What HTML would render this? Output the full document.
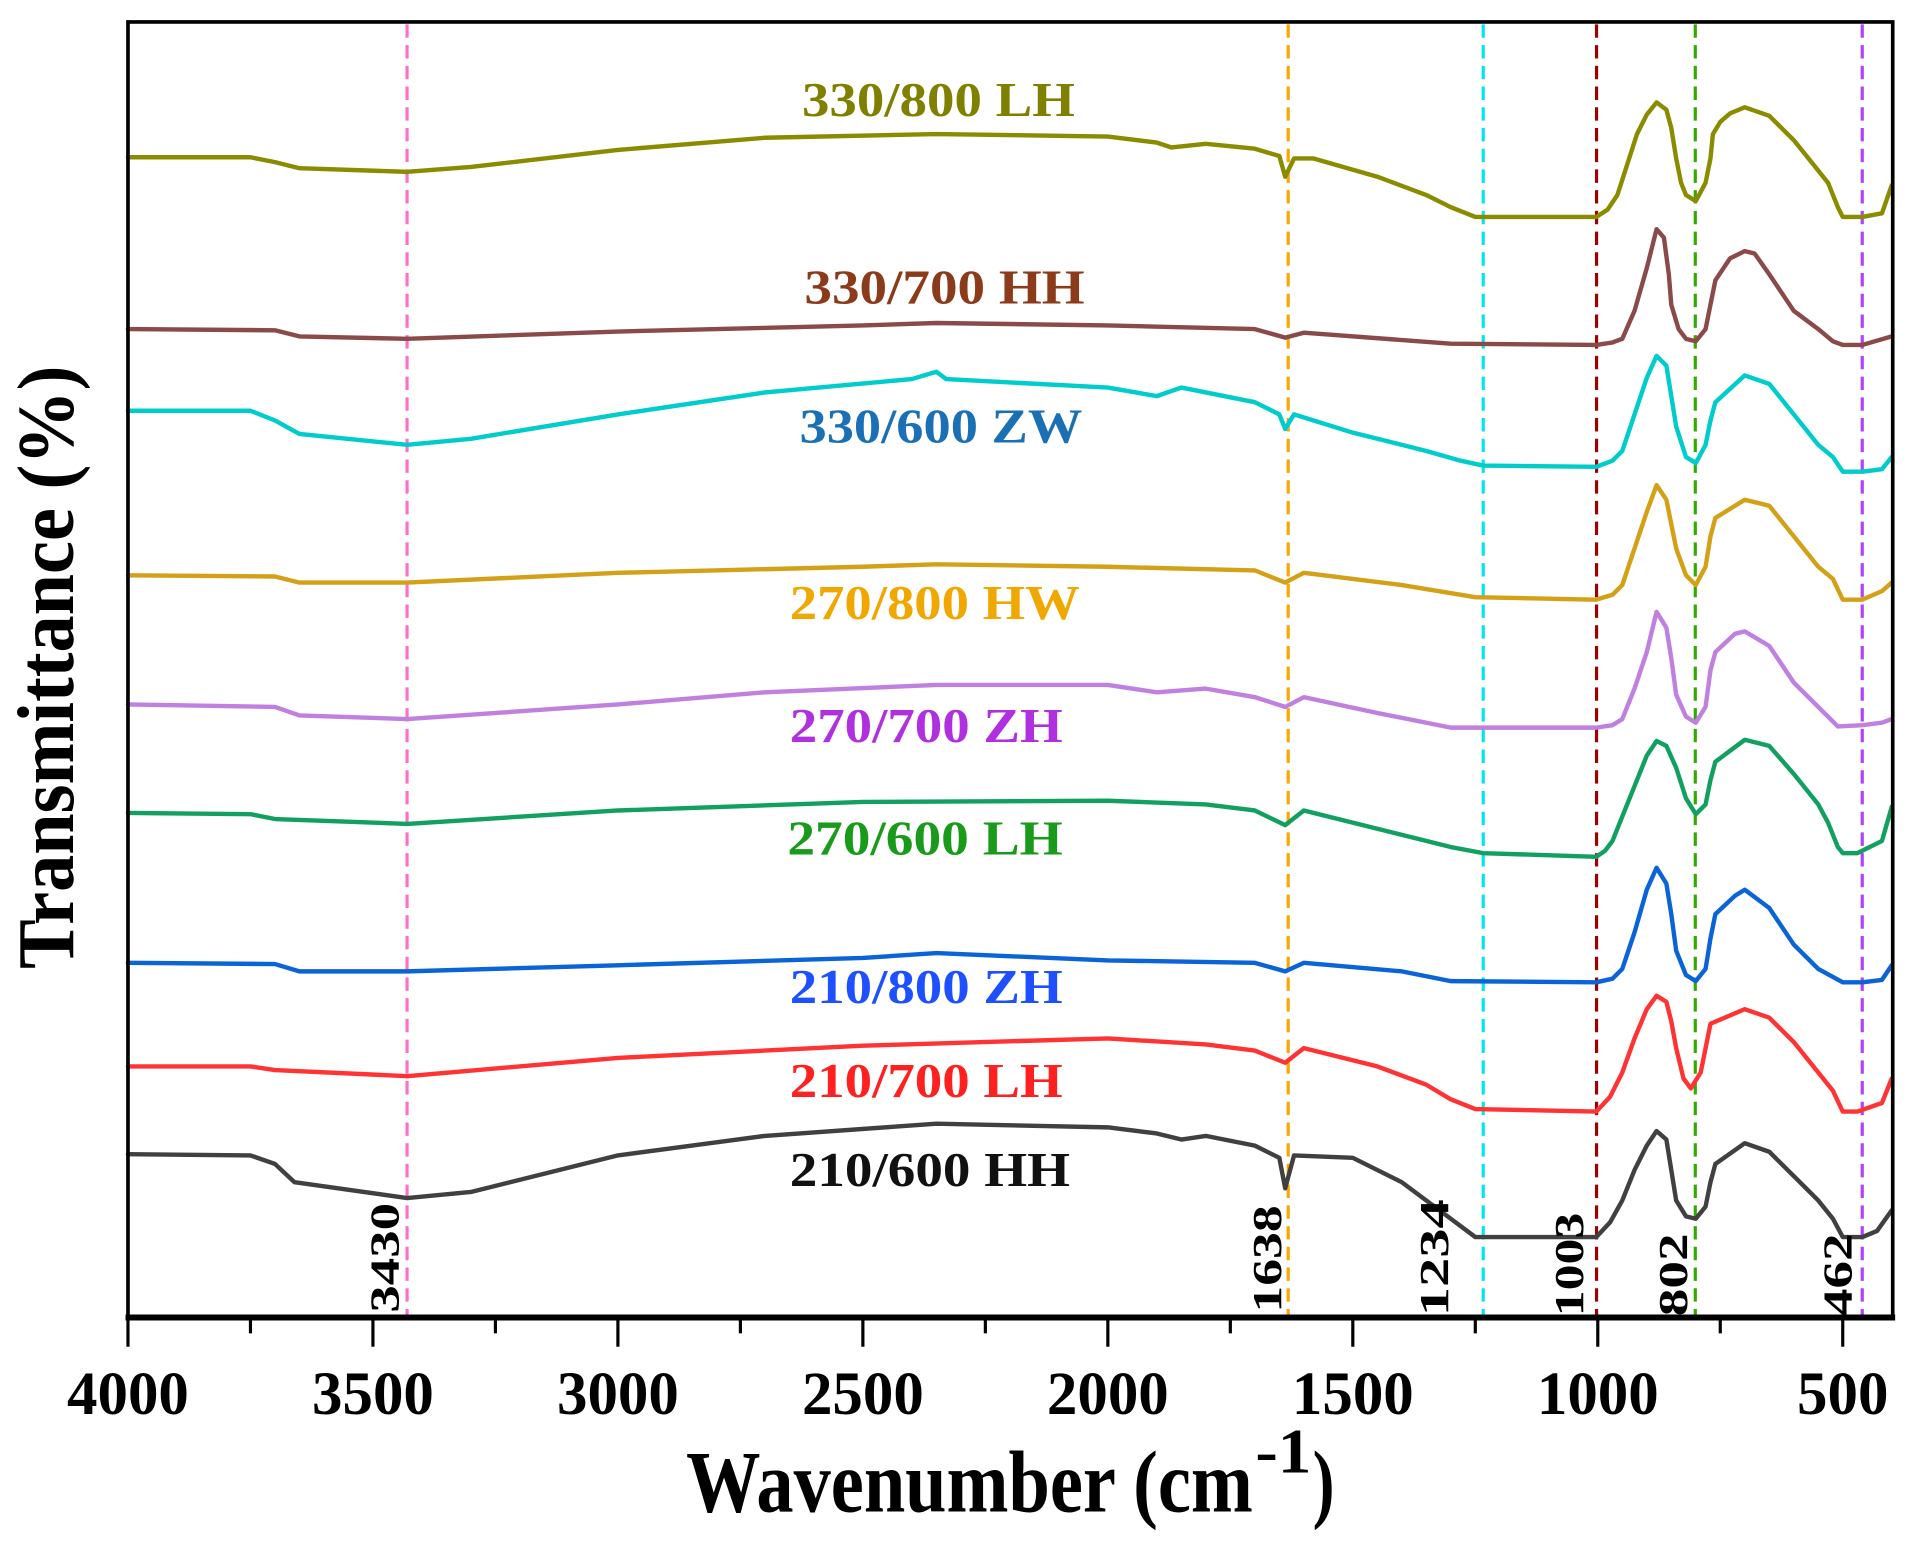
<!DOCTYPE html>
<html><head><meta charset="utf-8"><style>html,body{margin:0;padding:0;background:#fff}svg{display:block}</style></head>
<body>
<svg width="1911" height="1547" viewBox="0 0 1568 1269.3" xmlns="http://www.w3.org/2000/svg" font-family="Liberation Serif, serif" font-weight="bold">
<rect x="0" y="0" width="1568" height="1270" fill="#fff"/>
<g stroke-width="2.6" stroke-dasharray="11,6" fill="none">
<line x1="334" y1="20" x2="334" y2="1080" stroke="#ff6ec7"/>
<line x1="1057" y1="20" x2="1057" y2="1080" stroke="#ffa500"/>
<line x1="1217" y1="20" x2="1217" y2="1080" stroke="#00e5ee"/>
<line x1="1310" y1="20" x2="1310" y2="1080" stroke="#a00000"/>
<line x1="1391" y1="20" x2="1391" y2="1080" stroke="#33aa00"/>
<line x1="1528" y1="20" x2="1528" y2="1080" stroke="#b040ff"/>
</g>
<g transform="matrix(-0.402 0 0 1 1713 0)" fill="none" stroke-width="4.4" stroke-linejoin="round" stroke-linecap="round">
<polyline vector-effect="non-scaling-stroke" stroke="#8b8b00" points="4000,129 3750,129 3700,133 3650,138 3430,141 3300,137 3000,123 2700,113 2350,110 2000,112 1900,117 1870,121 1800,118 1700,122 1650,128 1638,145 1620,130 1580,130 1450,145 1350,160 1300,170 1250,178 1003,178 980,172 960,160 940,135 920,110 900,94 880,84 860,90 850,105 840,130 830,150 820,160 800,165 780,150 770,130 765,110 750,100 730,93 700,88 650,95 600,115 560,135 530,150 510,170 500,178 460,178 420,175 400,152"/>
<polyline vector-effect="non-scaling-stroke" stroke="#8b4a4a" points="4000,270 3700,271 3650,276 3430,278 3000,272 2500,267 2350,265 2000,267 1700,270 1638,277 1600,273 1300,282 1003,283 970,281 950,278 925,255 900,220 880,188 865,195 855,225 850,250 835,270 820,278 800,280 780,270 770,250 760,230 730,212 700,206 680,208 650,225 600,255 550,270 520,280 500,283 460,283 400,276"/>
<polyline vector-effect="non-scaling-stroke" stroke="#00cccc" points="4000,337 3750,337 3700,345 3650,356 3430,365 3300,360 3000,340 2700,322 2400,311 2350,305 2330,311 2000,318 1900,325 1850,318 1700,330 1650,340 1638,352 1620,340 1500,355 1350,370 1280,378 1234,382 1003,383 970,378 950,370 925,340 900,310 880,292 860,300 850,325 840,350 820,375 800,380 780,365 770,345 760,330 700,308 650,315 600,340 550,365 520,375 500,387 460,387 420,385 400,375"/>
<polyline vector-effect="non-scaling-stroke" stroke="#d4a017" points="4000,472 3700,473 3650,478 3430,478 3000,470 2500,465 2350,463 2000,465 1700,468 1638,478 1600,470 1400,480 1250,490 1003,492 970,488 950,480 925,450 900,420 880,398 860,410 850,430 840,450 820,472 800,480 780,465 770,440 760,425 700,410 650,415 600,440 550,465 520,475 500,492 460,492 420,485 400,478"/>
<polyline vector-effect="non-scaling-stroke" stroke="#c080e0" points="4000,578 3700,580 3650,587 3430,590 3000,578 2700,568 2350,562 2000,562 1900,568 1800,565 1700,572 1638,580 1600,572 1450,585 1300,597 1003,597 970,595 950,590 925,565 900,535 880,502 860,515 850,540 840,570 820,588 800,593 780,580 770,550 760,535 720,520 700,518 650,530 600,560 550,580 510,596 460,595 420,593 400,590"/>
<polyline vector-effect="non-scaling-stroke" stroke="#12a060" points="4000,667 3750,668 3700,672 3430,676 3000,665 2500,658 2000,657 1800,660 1700,665 1638,677 1600,665 1450,680 1300,695 1234,700 1003,703 985,698 970,690 945,665 920,640 900,620 880,608 860,612 840,630 820,655 800,668 780,660 770,640 760,625 700,607 650,612 600,635 550,660 530,675 510,695 500,700 470,700 420,690 400,662"/>
<polyline vector-effect="non-scaling-stroke" stroke="#0a64d8" points="4000,790 3700,791 3650,797 3430,797 3000,792 2500,786 2350,782 2000,788 1700,790 1638,797 1600,790 1400,797 1300,805 1003,806 970,803 950,795 925,765 900,730 880,712 860,725 850,750 840,780 820,800 800,805 780,795 770,770 760,750 720,735 700,730 650,745 600,775 550,795 500,806 460,806 420,804 400,792"/>
<polyline vector-effect="non-scaling-stroke" stroke="#ff3333" points="4000,875 3750,875 3700,878 3430,883 3000,868 2500,858 2000,852 1800,857 1700,862 1638,872 1600,860 1450,875 1350,890 1300,902 1250,910 1003,912 975,900 950,880 925,852 900,828 880,817 860,822 850,838 840,860 825,885 810,893 790,880 780,860 770,840 700,828 650,835 600,855 550,880 520,895 500,912 470,912 420,905 400,885"/>
<polyline vector-effect="non-scaling-stroke" stroke="#404040" points="4000,947 3750,948 3700,955 3660,970 3430,983 3300,978 3000,948 2700,932 2350,922 2000,925 1900,930 1850,935 1800,932 1700,940 1650,950 1638,975 1620,948 1500,950 1400,970 1300,1000 1250,1015 1003,1015 975,1003 950,985 925,960 900,940 880,928 860,935 850,960 840,985 820,998 800,1000 780,990 770,970 760,955 700,938 650,945 600,965 550,985 520,1000 500,1015 460,1015 430,1010 400,993"/>
</g>
<g font-size="40">
<text x="658" y="95" fill="#808000" textLength="224" lengthAdjust="spacingAndGlyphs">330/800 LH</text>
<text x="660" y="249" fill="#8b3a1a" textLength="230" lengthAdjust="spacingAndGlyphs">330/700 HH</text>
<text x="656" y="363" fill="#1a6fb5" textLength="232" lengthAdjust="spacingAndGlyphs">330/600 ZW</text>
<text x="648" y="508" fill="#f0a800" textLength="238" lengthAdjust="spacingAndGlyphs">270/800 HW</text>
<text x="648" y="609" fill="#b030e0" textLength="224" lengthAdjust="spacingAndGlyphs">270/700 ZH</text>
<text x="646" y="701" fill="#1a9a1a" textLength="226" lengthAdjust="spacingAndGlyphs">270/600 LH</text>
<text x="648" y="823" fill="#1e50ff" textLength="224" lengthAdjust="spacingAndGlyphs">210/800 ZH</text>
<text x="648" y="900" fill="#ff2020" textLength="224" lengthAdjust="spacingAndGlyphs">210/700 LH</text>
<text x="648" y="973" fill="#111" textLength="230" lengthAdjust="spacingAndGlyphs">210/600 HH</text>
</g>
<g font-size="34" fill="#000">
<text transform="translate(327,1077) rotate(-90)" textLength="90" lengthAdjust="spacingAndGlyphs">3430</text>
<text transform="translate(1051,1077) rotate(-90)" textLength="88" lengthAdjust="spacingAndGlyphs">1638</text>
<text transform="translate(1188,1080) rotate(-90)" textLength="96" lengthAdjust="spacingAndGlyphs">1234</text>
<text transform="translate(1299,1080) rotate(-90)" textLength="85" lengthAdjust="spacingAndGlyphs">1003</text>
<text transform="translate(1384,1080) rotate(-90)" textLength="68" lengthAdjust="spacingAndGlyphs">802</text>
<text transform="translate(1519,1080) rotate(-90)" textLength="68" lengthAdjust="spacingAndGlyphs">462</text>
</g>
<rect x="105" y="18" width="1448" height="1063" fill="none" stroke="#000" stroke-width="3"/>
<line x1="103" y1="1081" x2="1555" y2="1081" stroke="#000" stroke-width="5"/>
<g stroke="#000" stroke-width="2.6">
<line x1="105" y1="1081" x2="105" y2="1105"/><line x1="205.5" y1="1081" x2="205.5" y2="1094"/>
<line x1="306" y1="1081" x2="306" y2="1105"/><line x1="406.5" y1="1081" x2="406.5" y2="1094"/>
<line x1="507" y1="1081" x2="507" y2="1105"/><line x1="607.5" y1="1081" x2="607.5" y2="1094"/>
<line x1="708" y1="1081" x2="708" y2="1105"/><line x1="808.5" y1="1081" x2="808.5" y2="1094"/>
<line x1="909" y1="1081" x2="909" y2="1105"/><line x1="1009.5" y1="1081" x2="1009.5" y2="1094"/>
<line x1="1110" y1="1081" x2="1110" y2="1105"/><line x1="1210.5" y1="1081" x2="1210.5" y2="1094"/>
<line x1="1311" y1="1081" x2="1311" y2="1105"/><line x1="1411.5" y1="1081" x2="1411.5" y2="1094"/>
<line x1="1512" y1="1081" x2="1512" y2="1105"/>
</g>
<g font-size="50" fill="#000" text-anchor="middle">
<text x="105" y="1160">4000</text><text x="306" y="1160">3500</text><text x="507" y="1160">3000</text><text x="708" y="1160">2500</text><text x="909" y="1160">2000</text><text x="1110" y="1160">1500</text><text x="1311" y="1160">1000</text><text x="1512" y="1160">500</text>
</g>
<text x="563" y="1240" font-size="72" textLength="465" lengthAdjust="spacingAndGlyphs">Wavenumber (cm</text>
<text x="1030" y="1208" font-size="52" textLength="46" lengthAdjust="spacingAndGlyphs">-1</text>
<text x="1077" y="1240" font-size="72" textLength="18" lengthAdjust="spacingAndGlyphs">)</text>
<text transform="translate(60,795) rotate(-90)" font-size="66" textLength="495" lengthAdjust="spacingAndGlyphs">Transmittance (%)</text>
</svg>
</body></html>
